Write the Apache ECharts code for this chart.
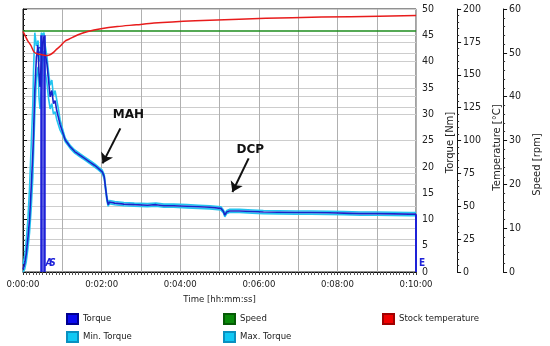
<!DOCTYPE html>
<html><head><meta charset="utf-8">
<script src="https://cdn.jsdelivr.net/npm/echarts@6/dist/echarts.min.js"></script>
<style>html,body{margin:0;padding:0;background:#fff}#c{width:550px;height:346px}</style>
</head><body><div id="c"></div>
<script>
// ---- data ----
const torqueTime = [0,2.5,5,7.5,10,12.5,15,16,18,20.5,23,24.5,26,28,30,32,34,36.5,39,41.5,44,46.5,49,51.5,54,56.5,61.5,64.5,72,79,87,94,102,109,115,121,124,126,128,130,132,140,154,170,190,203,215,230,250,268,285,302,306,308,311,315,330,350,367,390,416,440,466,490,515,540,565,590,600];
const torque    = [0.5,1.5,3.5,6.5,10,16,22.6,26,34.5,40.9,42.7,37.7,35.2,40,43.5,44.7,41.5,39.6,36.4,33.3,34.5,32,32.6,30.7,29.4,28.1,26.2,25.1,23.8,22.9,22.2,21.6,20.9,20.3,19.7,19.05,18.1,16,14,12.8,13.3,13.1,12.9,12.8,12.7,12.8,12.6,12.6,12.5,12.4,12.3,12.1,11.5,10.8,11.4,11.6,11.6,11.5,11.4,11.35,11.3,11.3,11.25,11.2,11.1,11.1,11.05,11,11];
const maxTorque = [1.5,3,6,10,16,24,32,38,45.5,43,44,40,41,45.5,45,45.5,43,41,38,35.5,36.5,33.5,34.5,34.5,31,29,26.7,25.45,24.1,23.2,22.5,21.9,21.2,20.6,20,19.35,18.5,16.4,14.4,13.1,13.6,13.4,13.2,13.1,13,13.1,12.9,12.9,12.8,12.7,12.6,12.4,11.8,11.1,11.7,11.9,11.9,11.8,11.7,11.65,11.6,11.6,11.55,11.5,11.4,11.4,11.35,11.3,11.3];
const minTorque = [0,0.5,2,4.5,7.5,12,18,22,30,37,39,33,31,35,40,42,38,36,33,31,32,30,30.5,29,28,27,25.8,24.75,23.5,22.6,21.9,21.3,20.6,20,19.4,18.75,17.7,15.6,13.6,12.5,13,12.8,12.6,12.5,12.4,12.5,12.3,12.3,12.2,12.1,12,11.8,11.2,10.5,11.1,11.3,11.3,11.2,11.1,11.05,11,11,10.95,10.9,10.8,10.8,10.75,10.7,10.7];
const speedTime = [0,600];
const speed     = [55,55];
const tempTime  = [0,3,7,12,17,22,29,37,42,47,52,57,64,70,84,99,119,144,173,200,263,330,411,500,600];
const stockTemp = [182.9,180,176,172.3,167.2,165.9,165.2,164.6,165.4,167.2,169.7,171.8,175.5,177,180.4,182.9,185,186.7,188,189.3,191,192.3,193.4,194.2,195];
const markerTimes = [28.5,33];
const markerTop = 45;
const endTime = 600, endTorque = 11;
const xTickLabels = ['0:00:00','0:02:00','0:04:00','0:06:00','0:08:00','0:10:00'];

const pairs = (xs, ys) => xs.map((x,i)=>[x,ys[i]]);
const F = "'DejaVu Sans Condensed','Liberation Sans Narrow',sans-serif";
const markBlue = '#1e22d8';

function yAx(min,max,interval,offset,name,gap,pad){
  return {type:'value',position:'right',offset:offset,min:min,max:max,interval:interval,
    name:name,nameLocation:'middle',nameRotate:90,nameGap:gap,
    nameTextStyle:{fontFamily:'DejaVu Sans',fontSize:10,color:'#222',padding:pad},
    axisLine:{show:true,lineStyle:{color:'#111',width:1}},
    axisTick:{show:true,inside:false,length:4,lineStyle:{color:'#111'}},
    minorTick:{show:true,splitNumber:5,length:2,lineStyle:{color:'#333'}},
    axisLabel:{fontFamily:F,fontSize:10.5,color:'#222',margin:6},
    splitLine:{show:true,lineStyle:{color:'#cdcdcd',width:1}}};
}
function leg(left,names){
  return {left:left,top:313,orient:'vertical',padding:0,itemWidth:11,itemHeight:10,itemGap:6,icon:'rect',
    textStyle:{fontFamily:F,fontSize:9.5,color:'#222'},data:names};
}

const chart = echarts.init(document.getElementById('c'),null,{renderer:'canvas'});
chart.setOption({
  animation:false,
  backgroundColor:'#fff',
  grid:{left:23,right:123,top:9,bottom:74,show:true,borderColor:'#222',borderWidth:1,backgroundColor:'transparent'},
  xAxis:{type:'value',min:0,max:600,interval:60,
    name:'Time [hh:mm:ss]',nameLocation:'middle',nameGap:22,
    nameTextStyle:{fontFamily:F,fontSize:9.5,color:'#222'},
    axisLine:{lineStyle:{color:'#111'}},
    axisTick:{show:true,length:3,lineStyle:{color:'#333'}},
    minorTick:{show:true,splitNumber:12,length:3,lineStyle:{color:'#555'}},
    axisLabel:{fontFamily:F,fontSize:9.5,color:'#222',margin:8,
      formatter:v=> (v%120===0) ? xTickLabels[v/120] : ''},
    splitLine:{show:true,lineStyle:{color:'#b0b0b0',width:1}}},
  yAxis:[
    yAx(0,50,5,0,'Torque [Nm]',26,[0,4,0,0]),
    yAx(0,200,25,41,'Temperature [°C]',31,[0,14,0,0]),
    yAx(0,60,10,87,'Speed [rpm]',24,[0,48,0,0])
  ],
  legend:[
    leg(66,['Torque','Min. Torque']),
    leg(223,['Speed','Max. Torque']),
    leg(382,['Stock temperature'])
  ],
  series:[
    {name:'Speed',type:'line',yAxisIndex:2,data:pairs(speedTime,speed),showSymbol:false,
     itemStyle:{color:'#0a8a0a',borderColor:'#055a05',borderWidth:1},lineStyle:{color:'#1c8c1c',width:1.5},z:3},
    {name:'Max. Torque',type:'line',yAxisIndex:0,data:pairs(torqueTime,maxTorque),showSymbol:false,
     itemStyle:{color:'#10c8f4',borderColor:'#0a90c0',borderWidth:1},lineStyle:{color:'#22c4f0',width:1.6},z:4},
    {name:'Min. Torque',type:'line',yAxisIndex:0,data:pairs(torqueTime,minTorque),showSymbol:false,
     itemStyle:{color:'#10c8f4',borderColor:'#0a90c0',borderWidth:1},lineStyle:{color:'#22c4f0',width:1.6},z:4},
    {name:'Torque',type:'line',yAxisIndex:0,data:pairs(torqueTime,torque),showSymbol:false,
     itemStyle:{color:'#0a0af0',borderColor:'#000090',borderWidth:1},lineStyle:{color:'#1a22c8',width:1.6},z:5,
     markLine:{silent:true,symbol:['none','none'],animation:false,
       label:{show:false},
       data:[
         ...markerTimes.map(t=>[{coord:[t,0],lineStyle:{color:markBlue,width:2.5,type:'solid'}},{coord:[t,markerTop]}]),
         [{coord:[endTime,0],lineStyle:{color:markBlue,width:2,type:'solid'}},{coord:[endTime,endTorque]}],
         [{coord:[148.6,27.3],symbol:'none',lineStyle:{color:'#111',width:2,type:'solid'}},{coord:[121.4,20.65],symbol:'arrow',symbolSize:10}],
         [{coord:[344.4,21.6],symbol:'none',lineStyle:{color:'#111',width:2,type:'solid'}},{coord:[319.6,15.2],symbol:'arrow',symbolSize:10}]
       ]},
     markPoint:{silent:true,symbol:'circle',symbolSize:0,animation:false,
       data:[
         {coord:[161,29.9],label:{show:true,formatter:'MAH',fontFamily:'DejaVu Sans',fontWeight:'bold',fontSize:12,color:'#111'}},
         {coord:[347,23.2],label:{show:true,formatter:'DCP',fontFamily:'DejaVu Sans',fontWeight:'bold',fontSize:12,color:'#111'}},
         {coord:[39.7,1.7],label:{show:true,formatter:'A',fontFamily:F,fontStyle:'italic',fontWeight:'bold',fontSize:10,color:markBlue}},
         {coord:[45,1.7],label:{show:true,formatter:'S',fontFamily:F,fontStyle:'italic',fontWeight:'bold',fontSize:10,color:markBlue}},
         {coord:[24.8,42.2],label:{show:true,formatter:'b',fontFamily:F,fontWeight:'bold',fontSize:10,color:markBlue}},
         {coord:[600,1.7],label:{show:true,formatter:'E',fontFamily:F,fontWeight:'bold',fontSize:10,color:markBlue,offset:[6,0]}}
       ]}},
    {name:'Stock temperature',type:'line',yAxisIndex:1,data:pairs(tempTime,stockTemp),showSymbol:false,smooth:0.3,
     itemStyle:{color:'#f00000',borderColor:'#a00000',borderWidth:1},lineStyle:{color:'#e81c1c',width:1.5},z:6}
  ]
});
</script></body></html>
